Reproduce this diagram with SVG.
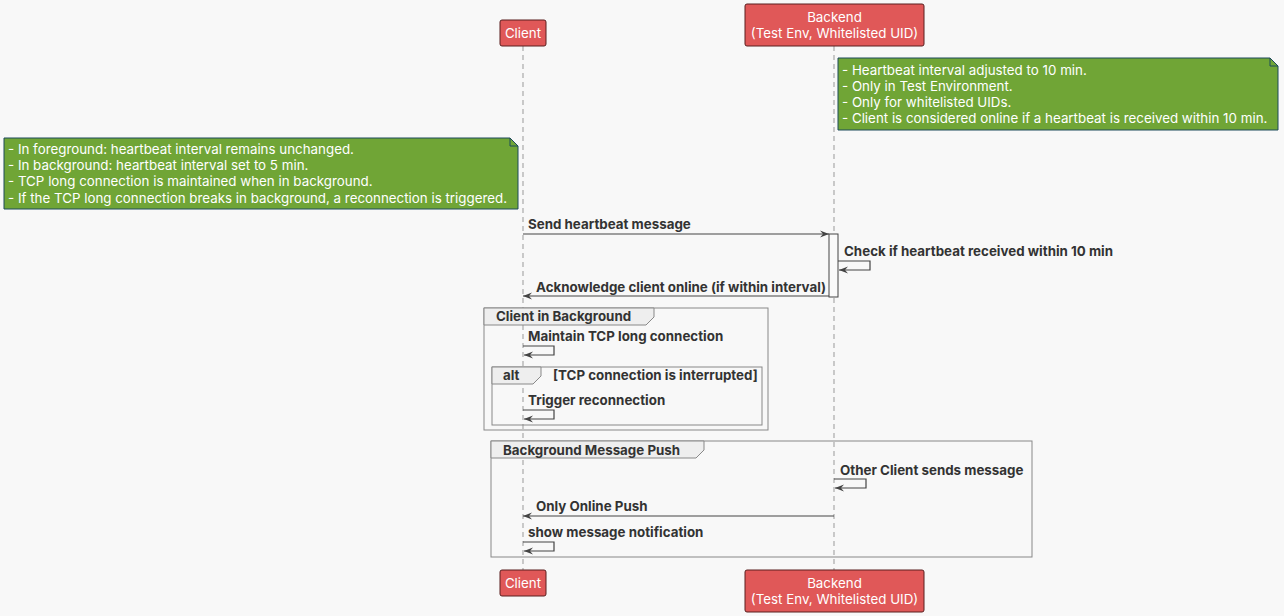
<svg xmlns="http://www.w3.org/2000/svg" width="1284" height="616" viewBox="0 0 1284 616">
<defs>
<style>
text{font-family:Inter,"Noto Sans","Liberation Sans",sans-serif;font-size:13.35px}
.pt{fill:#fff;text-anchor:middle}
.pbox{fill:#e05858;stroke:#5a1e1e;stroke-width:1}
.note{fill:#70a536;stroke:#1d4a5a;stroke-width:1}
.nt{fill:#fff}
.msg{fill:#333;font-weight:bold}
.life{stroke:#999;stroke-width:1;stroke-dasharray:5,4}
.line{fill:none;stroke:#444;stroke-width:1.2}
.frame{fill:none;stroke:#888;stroke-width:1}
.tab{fill:#eee;stroke:#888;stroke-width:1}
.act{fill:#fafafa;stroke:#444;stroke-width:1}
</style>
<marker id="ah" markerWidth="10" markerHeight="8" refX="9" refY="4" orient="auto" markerUnits="userSpaceOnUse">
<path d="M0,0.5 L9,4 L0,7.5 L3,4 Z" fill="#444"/>
</marker>
</defs>
<rect x="0" y="0" width="1284" height="616" fill="#f8f8f8"/>

<g id="lifelines">
<line class="life" x1="523" y1="46" x2="523" y2="570"/>
<line class="life" x1="834" y1="46" x2="834" y2="570"/>
</g>

<g id="participant-client-top">
<rect class="pbox" x="500" y="20" width="46" height="26" rx="2"/>
<text class="pt" x="523" y="38">Client</text>
</g>
<g id="participant-backend-top">
<rect class="pbox" x="745" y="4" width="179" height="42" rx="2"/>
<text class="pt" x="834.5" y="22">Backend</text>
<text class="pt" x="834.5" y="38">(Test Env, Whitelisted UID)</text>
</g>

<g id="note-backend">
<path class="note" d="M838,58 L1270,58 L1278,66 L1278,130 L838,130 Z"/>
<path d="M1270,58 L1270,66 L1278,66" fill="none" stroke="#1d4a5a" stroke-width="1"/>
<text class="nt" x="842" y="75">- Heartbeat interval adjusted to 10 min.</text>
<text class="nt" x="842" y="91">- Only in Test Environment.</text>
<text class="nt" x="842" y="107">- Only for whitelisted UIDs.</text>
<text class="nt" x="842" y="123">- Client is considered online if a heartbeat is received within 10 min.</text>
</g>

<g id="note-client">
<path class="note" d="M4,138 L510,138 L518,146 L518,209 L4,209 Z"/>
<path d="M510,138 L510,146 L518,146" fill="none" stroke="#1d4a5a" stroke-width="1"/>
<text class="nt" x="8" y="154">- In foreground: heartbeat interval remains unchanged.</text>
<text class="nt" x="8" y="170">- In background: heartbeat interval set to 5 min.</text>
<text class="nt" x="8" y="186">- TCP long connection is maintained when in background.</text>
<text class="nt" x="8" y="203">- If the TCP long connection breaks in background, a reconnection is triggered.</text>
</g>

<g id="activation">
<rect class="act" x="829" y="234" width="9" height="63"/>
</g>

<g id="frame-client-background">
<rect class="frame" x="484" y="308" width="284" height="122"/>
<path class="tab" d="M484,308 L654,308 L654,317 L646,325 L484,325 Z"/>
<text class="msg" x="496" y="321">Client in Background</text>
</g>
<g id="frame-alt">
<rect class="frame" x="492" y="367" width="270" height="58"/>
<path class="tab" d="M492,367 L541,367 L541,376 L533,384 L492,384 Z"/>
<text class="msg" x="503" y="380">alt</text>
<text class="msg" x="553" y="380">[TCP connection is interrupted]</text>
</g>
<g id="frame-background-push">
<rect class="frame" x="491" y="441" width="541" height="116"/>
<path class="tab" d="M491,441 L704,441 L704,450 L696,458 L491,458 Z"/>
<text class="msg" x="503" y="455">Background Message Push</text>
</g>

<g id="connectors">
<line class="line" x1="523" y1="234" x2="829" y2="234" marker-end="url(#ah)"/>
<text class="msg" x="528" y="229">Send heartbeat message</text>

<polyline class="line" points="838,261 870,261 870,270 839,270" marker-end="url(#ah)"/>
<text class="msg" x="844" y="256">Check if heartbeat received within 10 min</text>

<line class="line" x1="829" y1="296" x2="523" y2="296" marker-end="url(#ah)"/>
<text class="msg" x="536" y="292">Acknowledge client online (if within interval)</text>

<polyline class="line" points="523,346 554,346 554,355 524,355" marker-end="url(#ah)"/>
<text class="msg" x="528" y="341">Maintain TCP long connection</text>

<polyline class="line" points="523,410 554,410 554,419 524,419" marker-end="url(#ah)"/>
<text class="msg" x="528" y="405">Trigger reconnection</text>

<polyline class="line" points="834,479 866,479 866,488 835,488" marker-end="url(#ah)"/>
<text class="msg" x="840" y="475">Other Client sends message</text>

<line class="line" x1="834" y1="516" x2="523" y2="516" marker-end="url(#ah)"/>
<text class="msg" x="536" y="511">Only Online Push</text>

<polyline class="line" points="523,542 554,542 554,551 524,551" marker-end="url(#ah)"/>
<text class="msg" x="528" y="537">show message notification</text>
</g>

<g id="participant-client-bottom">
<rect class="pbox" x="500" y="570" width="46" height="26" rx="2"/>
<text class="pt" x="523" y="588">Client</text>
</g>
<g id="participant-backend-bottom">
<rect class="pbox" x="745" y="570" width="179" height="42" rx="2"/>
<text class="pt" x="834.5" y="588">Backend</text>
<text class="pt" x="834.5" y="604">(Test Env, Whitelisted UID)</text>
</g>
</svg>
